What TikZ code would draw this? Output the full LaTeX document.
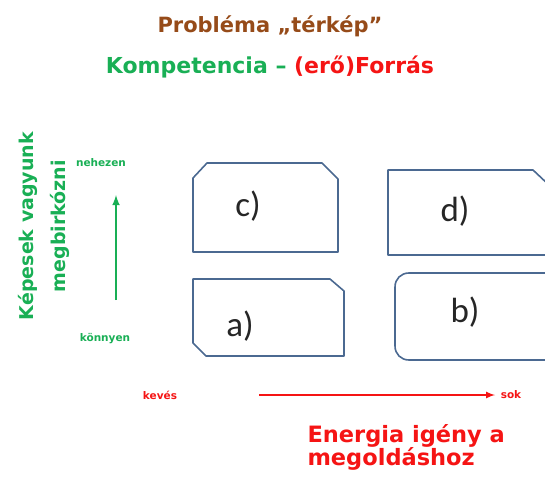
\documentclass[tikz,border=0pt]{standalone}
\usepackage{fontspec}
\setmainfont{Carlito}
\newfontfamily\comic{DejaVu Sans}
\usetikzlibrary{arrows,positioning}
\definecolor{barna}{RGB}{150,75,25}
\definecolor{zold}{RGB}{25,175,85}
\definecolor{piros}{RGB}{245,20,20}
\definecolor{keret}{RGB}{75,105,145}

\begin{document}
\begin{tikzpicture}[x=1pt,y=-1pt,
  doboz/.style={draw=keret,line width=1.6pt,line join=round},
  betu/.style={font=\fontsize{35}{35}\selectfont,text=black!85},
  kicsi/.style={font=\comic\bfseries\fontsize{10.5}{10.5}\selectfont}]
\useasboundingbox (0,0) rectangle (545,476);
% cimek
\node [font=\comic\bfseries\fontsize{21}{21}\selectfont,text=barna] (cim) at (270,26) {Probléma „térkép”};
\node [font=\comic\bfseries\fontsize{22}{22}\selectfont] (alcim) at (270,67) {\textcolor{zold}{Kompetencia –} \textcolor{piros}{(erő)Forrás}};
% fuggoleges tengely
\node [rotate=90,align=center,text=zold,font=\comic\bfseries\fontsize{19}{32}\selectfont] (kepes) at (44,226) {Képesek vagyunk\\megbirkózni};
\node [kicsi,text=zold] (nehezen) at (101,163) {nehezen};
\node [kicsi,text=zold] (konnyen) at (105,339) {könnyen};
\coordinate (z1) at (116,300);
\coordinate (z2) at (116,195);
\draw [-latex,zold,line width=2.4pt] (z1) -- (z2);
% vizszintes tengely
\node [kicsi,text=piros] (keves) at (160,395) {kevés};
\node [kicsi,text=piros] (sok) at (511,395) {sok};
\coordinate (p1) at (259,395);
\coordinate (p2) at (495,395);
\draw [-latex,piros,line width=2pt] (p1) -- (p2);
\node [align=left,anchor=north west,text=piros,font=\comic\bfseries\fontsize{22.5}{23}\selectfont] (energia) at (304,421) {Energia igény a\\megoldáshoz};
% dobozok
\draw [doboz] (193,178) -- (207,163) -- (322,163) -- (338,179) -- (338,252) -- (193,252) -- cycle;
\draw [doboz] (388,170) -- (533,170) -- (550,186) -- (550,255) -- (388,255) -- cycle;
\draw [doboz] (193,279) -- (330,279) -- (344,291) -- (344,356) -- (206,356) -- (193,343) -- cycle;
\draw [doboz] (409,273) -- (552,273) -- (552,360) -- (409,360) .. controls (401,360) and (395,354) .. (395,346) -- (395,287) .. controls (395,279) and (401,273) .. (409,273);
\node [betu] (c) at (248,206) {c)};
\node [betu] (d) at (455,211) {d)};
\node [betu] (a) at (240,326) {a)};
\node [betu] (b) at (465,312) {b)};
\end{tikzpicture}
\end{document}
